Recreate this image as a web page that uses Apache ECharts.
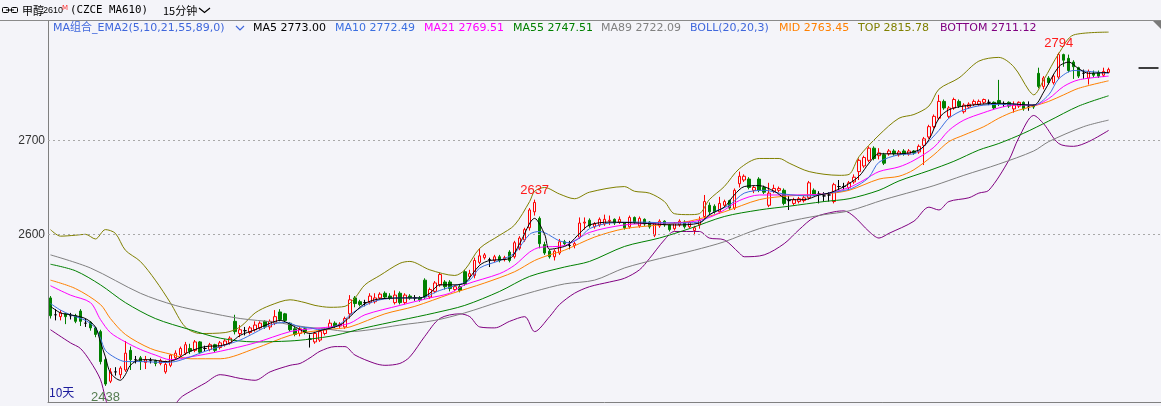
<!DOCTYPE html>
<html>
<head>
<meta charset="utf-8">
<title>甲醇2610 15分钟</title>
<script src="https://cdn.jsdelivr.net/npm/echarts@6/dist/echarts.min.js"></script>
<style>
    html, body { margin: 0; padding: 0; background: #f4f4f9; }
    #main { width: 1161px; height: 406px; }
</style>
</head>
<body>
<div id="main"></div>
<script>
// 15分钟K线: [开, 收, 低, 高]
var candles = [
    [2532,2513,2510,2534],[2514,2514,2508,2520],[2512,2516,2508,2519],[2515,2512,2504,2516],[2513,2513,2509,2516],
    [2513,2507,2505,2515],[2518,2507,2502,2520],[2505,2505,2501,2510],[2506,2500,2497,2507],[2500,2493,2490,2501],
    [2496,2464,2461,2498],[2466,2440,2438,2468],[2443,2453,2441,2457],[2453,2453,2449,2458],[2450,2457,2446,2459],
    [2455,2473,2453,2486],[2476,2466,2455,2480],[2466,2466,2462,2470],[2468,2464,2455,2470],[2463,2466,2456,2470],
    [2465,2465,2462,2468],[2465,2462,2459,2466],[2462,2465,2460,2467],[2453,2461,2451,2465],[2460,2471,2458,2472],
    [2468,2473,2466,2476],[2471,2478,2469,2480],[2473,2482,2471,2485],[2478,2475,2472,2483],[2476,2485,2474,2487],
    [2485,2474,2472,2486],[2478,2478,2475,2481],[2477,2482,2475,2484],[2482,2476,2474,2483],[2479,2484,2477,2486],
    [2482,2486,2480,2488],[2484,2489,2482,2491],[2507,2496,2493,2514],[2494,2498,2490,2503],[2497,2497,2492,2501],
    [2495,2500,2493,2502],[2498,2503,2496,2507],[2500,2505,2498,2507],[2507,2501,2499,2508],[2501,2507,2498,2509],
    [2505,2512,2503,2519],[2517,2509,2507,2520],[2515,2508,2506,2516],[2505,2498,2496,2506],[2499,2493,2491,2501],
    [2494,2499,2491,2502],[2499,2496,2493,2501],[2488,2488,2479,2493],[2485,2494,2483,2496],[2487,2496,2485,2498],
    [2494,2498,2492,2500],[2500,2505,2498,2509],[2505,2502,2500,2507],[2502,2504,2500,2506],[2501,2510,2499,2512],
    [2515,2530,2510,2535],[2532,2526,2522,2534],[2528,2525,2523,2530],[2527,2527,2523,2530],[2527,2534,2525,2537],
    [2528,2532,2526,2537],[2532,2536,2530,2538],[2537,2533,2531,2539],[2534,2532,2530,2537],[2527,2535,2525,2540],
    [2537,2527,2525,2539],[2527,2535,2525,2537],[2534,2532,2530,2536],[2532,2532,2529,2535],[2532,2530,2528,2534],
    [2551,2533,2531,2553],[2533,2541,2531,2543],[2539,2548,2537,2550],[2546,2557,2544,2559],[2549,2544,2541,2551],
    [2549,2542,2539,2551],[2541,2544,2539,2546],[2544,2540,2538,2546],[2560,2547,2545,2562],[2555,2558,2552,2562],
    [2556,2572,2553,2575],[2570,2577,2568,2585],[2575,2578,2573,2580],[2573,2573,2565,2575],[2572,2576,2570,2578],
    [2576,2572,2570,2578],[2573,2575,2571,2577],[2581,2572,2570,2583],[2576,2591,2574,2593],[2585,2596,2583,2598],
    [2594,2605,2592,2607],[2607,2626,2604,2628],[2624,2634,2620,2637],[2617,2590,2585,2619],[2589,2580,2578,2592],
    [2582,2576,2574,2584],[2576,2582,2572,2584],[2580,2592,2578,2595],[2592,2590,2588,2594],[2588,2588,2584,2593],
    [2588,2590,2585,2592],[2597,2612,2595,2618],[2612,2613,2605,2618],[2615,2609,2607,2617],[2608,2611,2606,2613],
    [2610,2616,2608,2618],[2611,2616,2609,2621],[2614,2615,2610,2620],[2616,2612,2610,2617],[2613,2616,2611,2619],
    [2612,2607,2605,2613],[2608,2618,2606,2620],[2618,2613,2611,2619],[2609,2617,2607,2619],[2616,2611,2609,2617],
    [2613,2608,2606,2614],[2599,2612,2597,2613],[2609,2614,2607,2616],[2614,2610,2608,2615],[2610,2605,2603,2611],
    [2606,2612,2604,2613],[2610,2614,2608,2616],[2613,2608,2606,2615],[2608,2613,2606,2614],[2604,2607,2599,2609],
    [2610,2615,2606,2619],[2619,2635,2616,2642],[2631,2624,2620,2634],[2630,2624,2622,2632],[2624,2633,2622,2640],
    [2631,2635,2629,2637],[2636,2628,2626,2637],[2628,2647,2626,2649],[2654,2662,2650,2667],[2658,2662,2656,2664],
    [2659,2650,2648,2661],[2647,2650,2644,2652],[2659,2647,2645,2661],[2650,2645,2643,2652],[2631,2644,2629,2655],
    [2646,2649,2644,2653],[2647,2649,2645,2651],[2647,2633,2631,2649],[2636,2636,2626,2641],[2633,2637,2631,2639],
    [2635,2638,2633,2640],[2636,2639,2634,2641],[2639,2655,2637,2657],[2647,2643,2641,2649],[2643,2643,2633,2646],
    [2641,2641,2635,2645],[2642,2642,2635,2645],[2635,2653,2633,2655],[2651,2651,2647,2658],[2651,2651,2648,2655],
    [2650,2655,2648,2657],[2656,2661,2654,2664],[2667,2679,2658,2681],[2673,2682,2671,2684],[2679,2692,2677,2694],
    [2692,2681,2679,2694],[2684,2687,2680,2692],[2685,2676,2674,2687],[2686,2689,2684,2691],[2689,2686,2684,2691],
    [2685,2688,2683,2690],[2689,2686,2684,2691],[2686,2689,2684,2691],[2689,2687,2685,2690],[2688,2694,2686,2696],
    [2695,2702,2674,2704],[2704,2715,2702,2717],[2715,2726,2713,2728],[2724,2742,2722,2749],[2742,2735,2733,2744],
    [2726,2735,2724,2737],[2735,2744,2733,2746],[2742,2737,2735,2744],[2731,2738,2729,2740],[2736,2739,2734,2741],
    [2739,2742,2737,2744],[2739,2742,2737,2744],[2741,2744,2739,2745],[2741,2741,2738,2744],[2741,2735,2733,2742],
    [2743,2740,2737,2765],[2739,2739,2736,2742],[2741,2737,2735,2742],[2734,2738,2730,2742],[2737,2741,2735,2742],
    [2741,2734,2732,2742],[2736,2736,2732,2742],[2738,2736,2734,2739],[2772,2758,2756,2778],[2758,2767,2755,2769],
    [2767,2762,2760,2769],[2762,2769,2760,2771],[2768,2792,2766,2794],[2792,2786,2779,2793],[2788,2775,2773,2792],
    [2784,2779,2766,2786],[2778,2769,2767,2779],[2772,2772,2766,2776],[2767,2774,2760,2776],[2772,2770,2768,2775],
    [2773,2769,2767,2775],[2770,2774,2768,2778],[2773,2776,2772,2778]
];

// 横轴: 已有K线 + 右侧空白
var barIndex = Array.from({ length: 223 }, (_, index) => String(index));

// 指标线 [K线序号, 数值]
var ma5 = [[0,2523],[2,2516],[4,2514],[7,2510],[9,2501],[10,2485],[11,2469],[12,2452],[14,2444],[15,2450],[16,2460],[18,2466],[20,2466],[23,2464],[25,2466],[28,2475],[31,2480],[34,2481],[36,2484],[38,2492],[41,2498],[44,2505],[46,2508],[49,2501],[52,2494],[54,2497],[58,2503],[60,2512],[63,2526],[66,2531],[72,2532],[74,2532],[76,2537],[78,2546],[81,2546],[83,2548],[86,2567],[88,2572],[92,2574],[94,2590],[97,2617],[99,2600],[100,2584],[103,2587],[104,2590],[106,2601],[108,2610],[112,2613],[118,2612],[125,2610],[130,2612],[132,2621],[135,2629],[137,2642],[139,2651],[142,2652],[145,2646],[148,2637],[151,2637],[154,2642],[156,2644],[159,2651],[162,2662],[164,2676],[166,2686],[170,2686],[174,2690],[176,2701],[178,2724],[180,2733],[183,2737],[190,2740],[197,2738],[199,2752],[202,2779],[204,2784],[206,2777],[208,2772],[212,2773]];
var ma10 = [[0,2526],[2,2519],[4,2514],[7,2508],[9,2500],[10,2489],[11,2476],[13,2468],[15,2464],[18,2464],[23,2463],[25,2464],[28,2469],[31,2475],[34,2480],[38,2487],[41,2495],[44,2503],[47,2506],[50,2501],[52,2500],[54,2498],[58,2504],[60,2514],[63,2524],[66,2530],[70,2532],[74,2532],[78,2540],[81,2545],[84,2551],[86,2564],[90,2572],[93,2580],[96,2600],[98,2603],[102,2593],[104,2591],[106,2596],[108,2606],[112,2612],[118,2613],[125,2612],[130,2613],[133,2624],[136,2631],[139,2644],[143,2647],[147,2643],[152,2641],[156,2644],[160,2648],[162,2653],[164,2661],[166,2677],[170,2685],[173,2686],[175,2694],[178,2711],[180,2724],[183,2733],[187,2738],[193,2739],[197,2738],[200,2749],[202,2766],[205,2775],[208,2774],[212,2772]];
var ma21 = [[0,2545],[4,2535],[8,2527],[10,2509],[12,2495],[15,2485],[18,2477],[21,2471],[24,2466],[28,2469],[34,2475],[41,2484],[48,2496],[52,2499],[56,2501],[60,2505],[63,2514],[70,2524],[76,2532],[80,2537],[83,2546],[90,2558],[93,2567],[96,2581],[98,2586],[103,2588],[108,2602],[115,2610],[122,2612],[128,2613],[132,2618],[135,2626],[138,2636],[142,2642],[148,2642],[155,2643],[160,2650],[163,2658],[166,2667],[170,2672],[173,2679],[177,2693],[180,2711],[183,2722],[187,2730],[190,2735],[193,2738],[197,2738],[200,2745],[203,2758],[206,2765],[212,2769]];
var ma55 = [[0,2568],[5,2561],[10,2546],[15,2527],[21,2510],[28,2498],[34,2489],[41,2485],[48,2486],[52,2488],[57,2492],[63,2500],[70,2508],[77,2516],[83,2524],[90,2539],[96,2555],[103,2565],[108,2571],[115,2587],[122,2596],[128,2606],[135,2619],[142,2626],[148,2630],[155,2635],[160,2638],[166,2647],[170,2657],[176,2668],[181,2678],[186,2690],[190,2697],[195,2708],[200,2721],[206,2737],[212,2748]];
var ma89 = [[0,2578],[8,2564],[18,2537],[25,2524],[31,2517],[38,2510],[45,2506],[51,2501],[55,2499],[60,2496],[64,2498],[70,2503],[77,2508],[83,2516],[90,2528],[97,2539],[103,2547],[109,2551],[115,2564],[122,2574],[129,2583],[135,2592],[142,2606],[149,2615],[155,2621],[160,2625],[167,2637],[173,2646],[177,2652],[183,2663],[190,2675],[197,2689],[200,2699],[207,2715],[212,2722]];
var bollMid = [[0,2551],[5,2542],[10,2525],[12,2510],[15,2493],[20,2478],[24,2472],[28,2467],[34,2467],[41,2478],[48,2492],[52,2496],[57,2499],[60,2501],[67,2515],[73,2523],[80,2536],[87,2548],[93,2560],[97,2572],[100,2578],[103,2583],[109,2597],[115,2606],[122,2610],[128,2614],[135,2624],[142,2637],[148,2641],[155,2643],[160,2647],[166,2659],[170,2662],[173,2669],[177,2685],[180,2699],[183,2706],[187,2715],[190,2724],[193,2731],[197,2737],[200,2742],[203,2749],[206,2756],[212,2764]];
var bollTop = [[0,2605],[2,2598],[5,2599],[7,2600],[9,2595],[11,2605],[13,2601],[15,2583],[18,2571],[21,2551],[24,2527],[27,2501],[30,2494],[35,2495],[38,2501],[41,2516],[44,2524],[48,2530],[51,2527],[53,2524],[56,2522],[59,2523],[61,2532],[63,2546],[66,2556],[70,2569],[72,2571],[76,2562],[81,2556],[83,2562],[86,2585],[90,2599],[93,2610],[96,2635],[97,2646],[99,2650],[102,2643],[105,2638],[108,2645],[115,2651],[117,2646],[120,2644],[123,2635],[125,2622],[128,2621],[130,2622],[132,2637],[135,2651],[138,2670],[142,2681],[146,2681],[148,2676],[152,2667],[158,2663],[160,2664],[162,2683],[166,2706],[170,2724],[173,2728],[176,2737],[178,2755],[182,2767],[186,2785],[190,2789],[193,2779],[196,2754],[197,2749],[199,2765],[202,2793],[205,2813],[212,2816]];
var bollBottom = [[0,2498],[4,2484],[6,2478],[8,2464],[10,2445],[11,2425],[12,2410],[15,2390],[18,2383],[21,2390],[24,2410],[26,2425],[28,2432],[31,2441],[34,2450],[38,2446],[41,2444],[44,2453],[48,2460],[50,2462],[52,2468],[54,2475],[57,2480],[59,2480],[61,2471],[65,2462],[67,2460],[70,2462],[72,2469],[75,2491],[78,2510],[82,2515],[84,2512],[86,2501],[89,2500],[92,2507],[95,2512],[97,2496],[100,2512],[102,2525],[105,2537],[108,2544],[112,2549],[115,2553],[118,2562],[120,2574],[123,2594],[125,2603],[130,2603],[132,2596],[135,2594],[138,2580],[139,2576],[143,2578],[147,2590],[150,2605],[153,2618],[157,2624],[159,2625],[161,2619],[164,2603],[166,2596],[168,2601],[173,2614],[176,2629],[178,2626],[180,2635],[184,2639],[186,2644],[188,2647],[192,2679],[194,2703],[197,2727],[199,2718],[202,2697],[205,2694],[208,2699],[212,2711]];

// 最高/最低标注
var extremeIdx = [97, 202, 11];
var extremeVal = [2637, 2794, 2438];

var gridPrices = [2600, 2700];
var dayBreaks = [190];
var lastPrice = 2778;

var legendTexts = ['MA组合_EMA2(5,10,21,55,89,0)', 'MA5 2773.00', 'MA10 2772.49', 'MA21 2769.51', 'MA55 2747.51',
    'MA89 2722.09', 'BOLL(20,20,3)', 'MID 2763.45', 'TOP 2815.78', 'BOTTOM 2711.12'];

var C_UP = '#ff0000', C_DOWN = '#008000';
var C_MA5 = '#000000', C_MA10 = '#3b6fe0', C_MA21 = '#ff00ff', C_MA55 = '#008000', C_MA89 = '#808080';
var C_MID = '#ff8000', C_TOP = '#808000', C_BOTTOM = '#800080', C_TITLE = '#3f67dc';
var legendColors = [C_TITLE, C_MA5, C_MA10, C_MA21, C_MA55, C_MA89, C_TITLE, C_MID, C_TOP, C_BOTTOM];
var legendX = [53, 253, 335, 424, 513, 601, 690, 779, 858, 940];

var chart = echarts.init(document.getElementById('main'));

// 平盘十字星画成黑色
var candleItems = candles.map(function (c) {
    if (c[0] === c[1]) {
        return { value: c, itemStyle: { color: '#000', color0: '#000', borderColor: '#000', borderColor0: '#000' } };
    }
    return c;
});

function lineSeries(name, pts, color, z) {
    return {
        name: name, type: 'line', data: pts, symbol: 'none', showSymbol: false,
        smooth: 0.3, silent: true, z: z, animation: false,
        lineStyle: { color: color, width: 1 }
    };
}

var graphics = [
    { type: 'line', shape: { x1: 0, y1: 20.5, x2: 1161, y2: 20.5 }, style: { stroke: '#8a8a8a', lineWidth: 1 } },
    { type: 'polygon', shape: { points: [[1153, 21], [1161, 21], [1161, 29]] }, style: { fill: '#7a7a7a' } },
    // 链接图标
    { type: 'rect', shape: { x: 2.5, y: 7.5, width: 6, height: 5, r: 1 }, style: { fill: 'none', stroke: '#000', lineWidth: 1 } },
    { type: 'rect', shape: { x: 11.5, y: 7.5, width: 6, height: 5, r: 1 }, style: { fill: 'none', stroke: '#000', lineWidth: 1 } },
    { type: 'line', shape: { x1: 6, y1: 10, x2: 14, y2: 10 }, style: { stroke: '#000', lineWidth: 1 } },
    { type: 'text', x: 22, y: 10.5, style: { text: '甲醇', fill: '#000', font: '11px "Noto Sans CJK SC"', verticalAlign: 'middle' } },
    { type: 'text', x: 43, y: 11, style: { text: '2610', fill: '#000', font: '9px "Liberation Sans"', verticalAlign: 'middle' } },
    { type: 'text', x: 62, y: 8, style: { text: 'M', fill: '#ff3030', font: '7px "DejaVu Sans"', verticalAlign: 'middle' } },
    { type: 'text', x: 70, y: 10.5, style: { text: '(CZCE MA610)', fill: '#000', font: '10.8px "DejaVu Sans Mono"', verticalAlign: 'middle' } },
    { type: 'text', x: 163, y: 10.5, style: { text: '15分钟', fill: '#000', font: '11px "Noto Sans CJK SC"', verticalAlign: 'middle' } },
    { type: 'polyline', shape: { points: [[199, 8], [204.5, 12.5], [210, 8]] }, style: { stroke: '#000', lineWidth: 1.2, fill: 'none' } },
    { type: 'polyline', shape: { points: [[236, 26], [240, 30], [244, 26]] }, style: { stroke: C_TITLE, lineWidth: 1.2, fill: 'none' } },
    { type: 'text', x: 49, y: 392, style: { text: '10天', fill: '#1c1c9c', font: '12px "Noto Sans CJK SC"', verticalAlign: 'middle' } }
];
legendTexts.forEach(function (t, k) {
    graphics.push({
        type: 'text', x: legendX[k], y: 28,
        style: { text: t, fill: legendColors[k], font: '11px "DejaVu Sans", "Noto Sans CJK SC"', verticalAlign: 'middle' }
    });
});

var option = {
    backgroundColor: '#f4f4f9',
    animation: false,
    grid: { left: 48, right: -2, top: 21, bottom: 4 },
    xAxis: {
        type: 'category',
        data: barIndex,
        boundaryGap: true,
        axisLine: { show: true, lineStyle: { color: '#808080', width: 1 } },
        axisTick: {
            show: true, inside: true, length: 9,
            interval: function (index) { return dayBreaks.indexOf(index) >= 0; },
            lineStyle: { color: '#808080' }
        },
        axisLabel: { show: false },
        splitLine: { show: false }
    },
    yAxis: {
        type: 'value',
        scale: true,
        min: 2420.8,
        max: 2827.9,
        axisLine: { show: true, lineStyle: { color: '#808080', width: 1 } },
        axisTick: { show: false },
        axisLabel: { show: false },
        splitLine: { show: false }
    },
    graphic: graphics,
    series: [
        {
            type: 'candlestick',
            data: candleItems,
            barWidth: 3,
            z: 2,
            silent: true,
            itemStyle: {
                color: 'rgba(0,0,0,0)',
                color0: C_DOWN,
                borderColor: C_UP,
                borderColor0: C_DOWN,
                borderWidth: 1
            },
            markLine: {
                symbol: 'none', silent: true, animation: false,
                lineStyle: { color: '#a8a8a8', type: [2, 3], width: 1 },
                label: { position: 'start', distance: 3, color: '#333', fontSize: 12, fontFamily: 'Liberation Sans', formatter: '{c}' },
                data: gridPrices.map(function (p) { return { yAxis: p }; }).concat([[
                    { coord: [218, lastPrice], label: { show: false }, lineStyle: { color: '#000', type: 'solid', width: 1.5 } },
                    { coord: [222, lastPrice] }
                ]])
            },
            markPoint: {
                symbol: 'circle', symbolSize: 0, silent: true, animation: false,
                data: extremeIdx.map(function (i, k) {
                    var low = k === 2;
                    return {
                        coord: [i, extremeVal[k]], value: extremeVal[k],
                        label: {
                            show: true, position: low ? 'bottom' : 'top', distance: low ? 5 : 3,
                            color: low ? '#557c50' : '#ff1a1a', fontSize: 13, fontFamily: 'Liberation Sans',
                            formatter: '{c}'
                        }
                    };
                })
            }
        },
        lineSeries('TOP', bollTop, C_TOP, 3),
        lineSeries('BOTTOM', bollBottom, C_BOTTOM, 3),
        lineSeries('MID', bollMid, C_MID, 3),
        lineSeries('MA89', ma89, C_MA89, 3),
        lineSeries('MA55', ma55, C_MA55, 3),
        lineSeries('MA21', ma21, C_MA21, 4),
        lineSeries('MA10', ma10, C_MA10, 4),
        lineSeries('MA5', ma5, C_MA5, 5)
    ]
};
chart.setOption(option);
</script>
</body>
</html>
